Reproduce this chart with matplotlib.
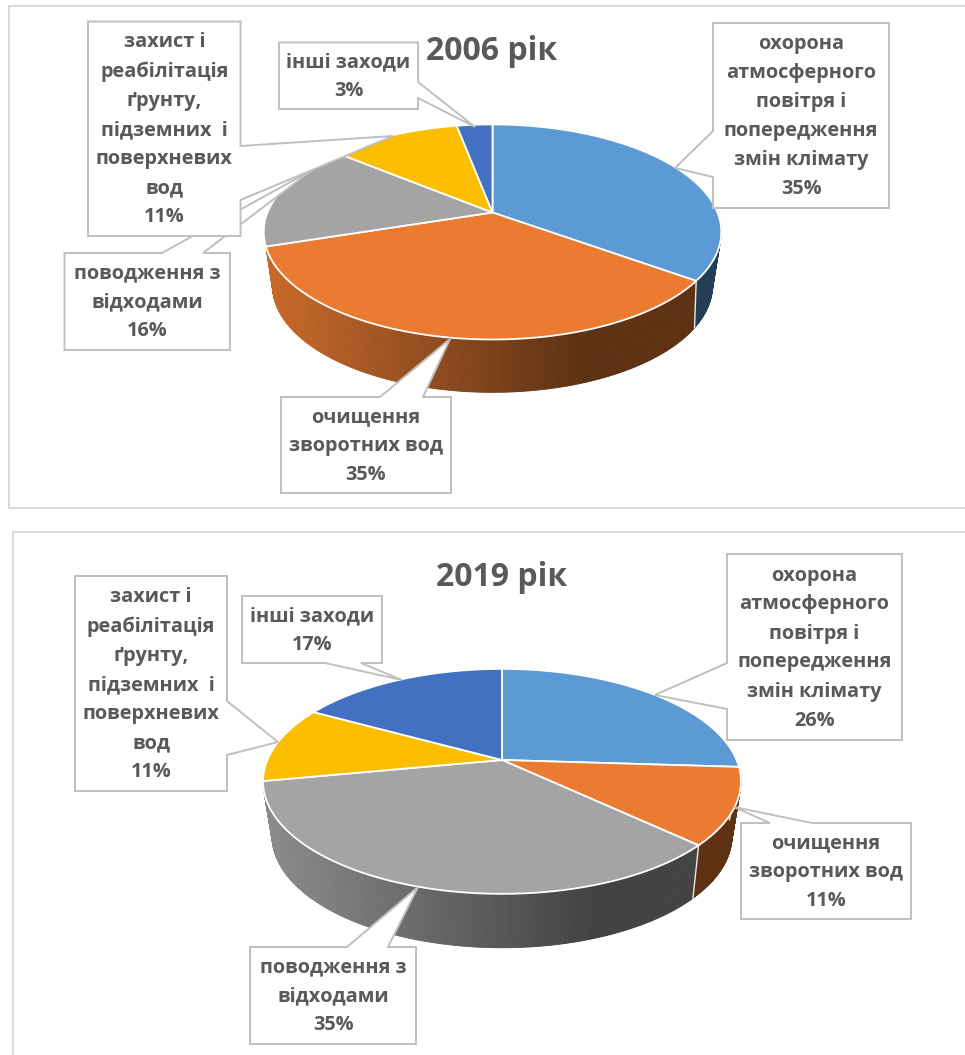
"""Two perspective 3D pies (2006 / 2019) with boxed callouts, drawn in pixel space."""

import numpy as np
import matplotlib
matplotlib.use("Agg")
import matplotlib.pyplot as plt
from matplotlib.collections import PolyCollection
from matplotlib.colors import to_rgb
from matplotlib.patches import Polygon, Rectangle

NAMES_2006 = ["охорона\nатмосферного\nповітря і\nпопередження\nзмін клімату",
              "очищення\nзворотних вод",
              "поводження з\nвідходами",
              "захист і\nреабілітація\nґрунту,\nпідземних  і\nповерхневих\nвод",
              "інші заходи"]
NAMES_2019 = NAMES_2006
VALUES_2006 = [35, 35, 16, 11, 3]
VALUES_2019 = [26, 11, 35, 11, 17]
COLORS = ["#5b9ad4", "#ea7b30", "#a4a4a4", "#fcbe00", "#4371c2"]
TEXT = "#595959"
GREY = "#bfbfbf"

# projection of the unit circle: x0, y0, A, B, k
TOP_2006 = (492.5, 212.5, 225, 104, 0.181)
LOW_2006 = (492.5, 259, 213, 100, 0.25)
TOP_2019 = (502, 760, 234.6, 108.4, 0.19)
LOW_2019 = (502, 813, 225, 107, 0.206)

# box x0, y0, x1, y1, side the pointer leaves from, pointer start, pointer end, tip
CALLOUTS_2006 = [
    (713, 23, 889, 208, "left", 131, 177, (675, 168)),
    (281, 397, 451, 493, "top", 380, 423, (450, 339)),
    (64.5, 253, 230, 350, "top", 162, 203, (312, 170)),
    (88, 21.5, 240.5, 236, "right", 146, 200, (393, 136)),
    (279, 42.5, 418, 109, "right", 82, 98, (475, 127)),
]
CALLOUTS_2019 = [
    (727, 554, 902, 740, "left", 663, 709, (655, 695)),
    (741, 823, 911, 919, "top", 770, 812, (734, 807)),
    (250, 947, 416, 1044, "top", 347, 388, (418, 887)),
    (75, 576, 227, 791, "right", 701, 755, (278, 742)),
    (242, 596, 382, 663, "bottom", 325, 361, (402, 680)),
]


def project(theta, p):
    x0, y0, a, b, k = p
    u, v = np.sin(theta), -np.cos(theta)
    w = 1 - k * v
    return x0 + a * u / w, y0 + b * v / w


def side_color(base, xn):
    # shading runs left to right, flat after 70% of the width
    f = np.interp(xn, [0, 0.7], [0.85, 0.4])
    return tuple(c * f for c in to_rgb(base))


def draw_pie(ax, values, top, low):
    edges = 2 * np.pi * np.cumsum([0] + values) / sum(values)
    rim = project(np.linspace(0, 2 * np.pi, 721), low)[0]
    left, right = rim.min(), rim.max()

    # side wall, only slices facing us (later ones would stick out on the left)
    quads = []
    for i in range(len(values)):
        if edges[i] > np.radians(250):
            continue
        lo = max(edges[i], np.radians(80))
        hi = edges[i + 1]
        if hi <= lo:
            continue
        th = np.linspace(lo, hi, max(int((hi - lo) * 120), 4))
        tx, ty = project(th, top)
        lx, ly = project(th, low)
        for j in range(len(th) - 1):
            col = side_color(COLORS[i], (lx[j] - left) / (right - left))
            quads.append(([(tx[j], ty[j]), (tx[j + 1], ty[j + 1]),
                           (lx[j + 1], ly[j + 1]), (lx[j], ly[j])], col))
    ax.add_collection(PolyCollection([q[0] for q in quads], facecolors=[q[1] for q in quads],
                                     edgecolors=[q[1] for q in quads], linewidths=0.6, zorder=2))

    # separators on the wall, not on the left silhouette
    for e in edges[:-1]:
        if np.cos(e) < 0 and np.sin(e) > -0.9:
            tx, ty = project(e, top)
            lx, ly = project(e, low)
            ax.plot([tx, lx], [ty, ly], color="#e8e8e8", lw=1.0, zorder=3)

    for i in range(len(values)):
        th = np.linspace(edges[i], edges[i + 1], 200)
        tx, ty = project(th, top)
        pts = np.column_stack([np.r_[top[0], tx], np.r_[top[1], ty]])
        ax.add_patch(Polygon(pts, closed=True, fc=COLORS[i], ec="white", lw=1.3, zorder=4, joinstyle="round"))


def draw_callout(ax, box, label, z):
    x0, y0, x1, y1, side, a, b, tip = box
    if side == "left":
        pts = [(x0, y0), (x1, y0), (x1, y1), (x0, y1), (x0, b), tip, (x0, a)]
    elif side == "right":
        pts = [(x0, y0), (x1, y0), (x1, a), tip, (x1, b), (x1, y1), (x0, y1)]
    elif side == "top":
        pts = [(x0, y0), (a, y0), tip, (b, y0), (x1, y0), (x1, y1), (x0, y1)]
    else:
        pts = [(x0, y0), (x1, y0), (x1, y1), (b, y1), tip, (a, y1), (x0, y1)]
    ax.add_patch(Polygon(pts, closed=True, fc="white", ec=GREY, lw=1.4, zorder=z))
    ax.text((x0 + x1) / 2, (y0 + y1) / 2 + 1, label, ha="center", va="center", ma="center",
            color=TEXT, fontsize=FS, fontweight="bold", linespacing=1.6, zorder=z + 0.5)


def draw_chart(ax, names, values, top, low, callouts, title, title_xy, frame):
    ax.add_patch(Rectangle(frame[:2], frame[2], frame[3], fc="white", ec="#d9d9d9", lw=1.4, zorder=1))
    ax.text(title_xy[0], title_xy[1], title, ha="center", va="center", color=TEXT,
            fontsize=23, fontweight="bold", zorder=5)
    draw_pie(ax, values, top, low)
    for i, box in enumerate(callouts):
        draw_callout(ax, box, f"{names[i]}\n{values[i]}%", 6 + i)


FS = 14.3
plt.rcParams["font.family"] = ["Open Sans", "DejaVu Sans"]

fig = plt.figure(figsize=(9.65, 10.55), dpi=100)
ax = fig.add_axes([0, 0, 1, 1])
ax.set_xlim(0, 965)
ax.set_ylim(1055, 0)
ax.axis("off")

draw_chart(ax, NAMES_2006, VALUES_2006, TOP_2006, LOW_2006, CALLOUTS_2006,
           "2006 рік", (492, 52), (8.5, 5.5, 975, 502))
draw_chart(ax, NAMES_2019, VALUES_2019, TOP_2019, LOW_2019, CALLOUTS_2019,
           "2019 рік", (502, 577), (12.5, 531.5, 975, 560))

fig.savefig("out.png", dpi=100)
